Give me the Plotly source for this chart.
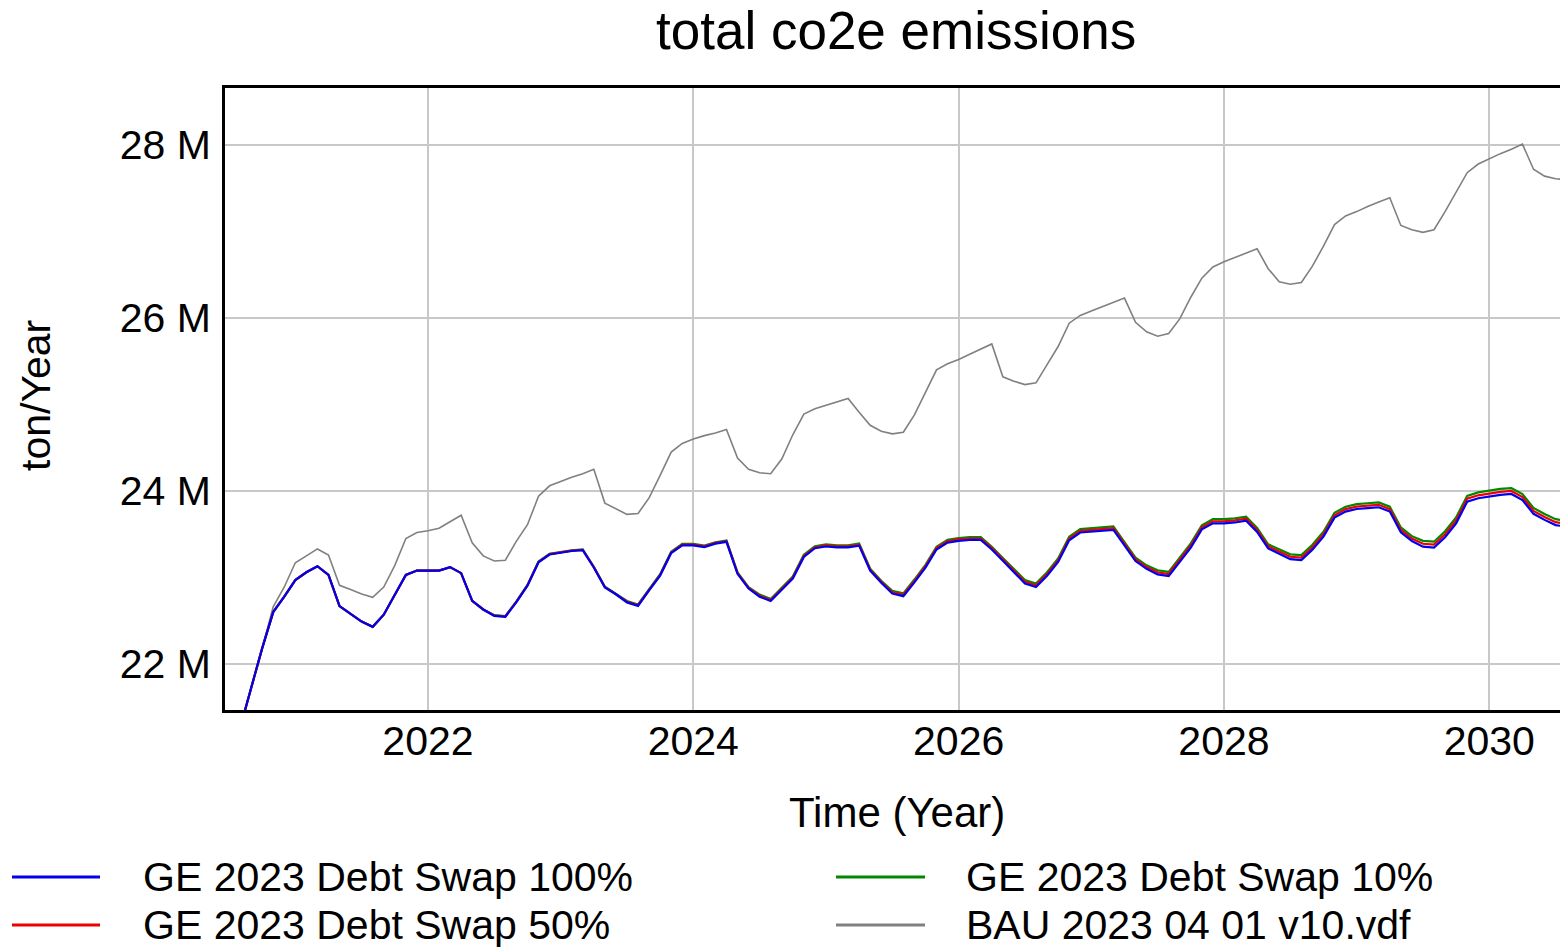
import plotly.graph_objects as go

# Monthly simulation time axis (years)
time = [2020.5 + m / 12 for m in range(122)]

# total co2e emissions, million ton/Year
bau_2023_04_01_v10 = [20.79, 21.24, 21.72, 22.18, 22.66, 22.89, 23.17, 23.25, 23.33, 23.26,
    22.91, 22.86, 22.81, 22.77, 22.89, 23.14, 23.45, 23.52, 23.54, 23.57,
    23.65, 23.72, 23.40, 23.25, 23.19, 23.20, 23.42, 23.61, 23.94, 24.06,
    24.11, 24.16, 24.20, 24.25, 23.86, 23.79, 23.73, 23.74, 23.92, 24.18,
    24.45, 24.55, 24.60, 24.64, 24.67, 24.71, 24.38, 24.25, 24.21, 24.20,
    24.37, 24.65, 24.89, 24.95, 24.99, 25.03, 25.07, 24.91, 24.76, 24.69,
    24.66, 24.68, 24.88, 25.14, 25.40, 25.47, 25.52, 25.58, 25.64, 25.70,
    25.32, 25.27, 25.23, 25.25, 25.46, 25.67, 25.94, 26.03, 26.08, 26.13,
    26.18, 26.23, 25.95, 25.84, 25.79, 25.82, 25.99, 26.24, 26.46, 26.59,
    26.65, 26.70, 26.75, 26.80, 26.57, 26.42, 26.39, 26.41, 26.60, 26.83,
    27.08, 27.18, 27.23, 27.29, 27.34, 27.39, 27.07, 27.02, 26.99, 27.02,
    27.23, 27.45, 27.68, 27.78, 27.84, 27.90, 27.95, 28.01, 27.72, 27.64,
    27.61, 27.60]

ge_debt_swap_50 = [20.79, 21.24, 21.72, 22.18, 22.60, 22.78, 22.97, 23.06, 23.13, 23.03,
    22.67, 22.58, 22.49, 22.43, 22.57, 22.80, 23.03, 23.08, 23.08, 23.08,
    23.12, 23.05, 22.73, 22.63, 22.56, 22.55, 22.72, 22.91, 23.18, 23.27,
    23.29, 23.31, 23.32, 23.12, 22.89, 22.81, 22.72, 22.68, 22.86, 23.03,
    23.29, 23.38, 23.38, 23.36, 23.40, 23.42, 23.05, 22.88, 22.79, 22.74,
    22.87, 23.00, 23.25, 23.35, 23.37, 23.36, 23.36, 23.38, 23.09, 22.95,
    22.83, 22.80, 22.96, 23.13, 23.34, 23.42, 23.44, 23.45, 23.45, 23.34,
    23.21, 23.08, 22.95, 22.91, 23.04, 23.20, 23.45, 23.54, 23.55, 23.56,
    23.57, 23.39, 23.21, 23.12, 23.06, 23.04, 23.20, 23.37, 23.58, 23.65,
    23.65, 23.66, 23.68, 23.55, 23.36, 23.30, 23.24, 23.23, 23.35, 23.50,
    23.72, 23.79, 23.82, 23.83, 23.84, 23.79, 23.55, 23.45, 23.39, 23.38,
    23.50, 23.66, 23.91, 23.95, 23.97, 23.99, 24.00, 23.93, 23.77, 23.70,
    23.64, 23.62]

ge_debt_swap_100 = [20.79, 21.24, 21.72, 22.18, 22.60, 22.78, 22.97, 23.06, 23.13, 23.03,
    22.67, 22.58, 22.49, 22.43, 22.57, 22.80, 23.03, 23.08, 23.08, 23.08,
    23.12, 23.05, 22.73, 22.63, 22.556, 22.546, 22.716, 22.906, 23.176, 23.266,
    23.286, 23.306, 23.316, 23.116, 22.886, 22.806, 22.712, 22.672, 22.852, 23.022,
    23.282, 23.372, 23.372, 23.352, 23.392, 23.412, 23.042, 22.872, 22.778, 22.728,
    22.858, 22.988, 23.238, 23.338, 23.358, 23.348, 23.348, 23.368, 23.078, 22.938,
    22.814, 22.784, 22.944, 23.114, 23.324, 23.404, 23.424, 23.434, 23.434, 23.324,
    23.194, 23.064, 22.930, 22.890, 23.020, 23.180, 23.430, 23.520, 23.530, 23.540,
    23.550, 23.370, 23.190, 23.100, 23.036, 23.016, 23.176, 23.346, 23.556, 23.626,
    23.626, 23.636, 23.656, 23.526, 23.336, 23.276, 23.212, 23.202, 23.322, 23.472,
    23.692, 23.762, 23.792, 23.802, 23.812, 23.762, 23.522, 23.422, 23.356, 23.346,
    23.466, 23.626, 23.876, 23.916, 23.936, 23.956, 23.966, 23.896, 23.736, 23.666,
    23.606, 23.586]

ge_debt_swap_10 = [20.79, 21.24, 21.72, 22.18, 22.60, 22.78, 22.97, 23.06, 23.13, 23.03,
    22.67, 22.58, 22.49, 22.43, 22.57, 22.80, 23.03, 23.08, 23.08, 23.08,
    23.12, 23.05, 22.73, 22.63, 22.564, 22.554, 22.724, 22.914, 23.184, 23.274,
    23.294, 23.314, 23.324, 23.124, 22.894, 22.814, 22.728, 22.688, 22.868, 23.038,
    23.298, 23.388, 23.388, 23.368, 23.408, 23.428, 23.058, 22.888, 22.802, 22.752,
    22.882, 23.012, 23.262, 23.362, 23.382, 23.372, 23.372, 23.392, 23.102, 22.962,
    22.846, 22.816, 22.976, 23.146, 23.356, 23.436, 23.456, 23.466, 23.466, 23.356,
    23.226, 23.096, 22.970, 22.930, 23.060, 23.220, 23.470, 23.560, 23.570, 23.580,
    23.590, 23.410, 23.230, 23.140, 23.084, 23.064, 23.224, 23.394, 23.604, 23.674,
    23.674, 23.684, 23.704, 23.574, 23.384, 23.324, 23.268, 23.258, 23.378, 23.528,
    23.748, 23.818, 23.848, 23.858, 23.868, 23.818, 23.578, 23.478, 23.424, 23.414,
    23.534, 23.694, 23.944, 23.984, 24.004, 24.024, 24.034, 23.964, 23.804, 23.734,
    23.674, 23.654]

series_names = ["GE 2023 Debt Swap 100%", "GE 2023 Debt Swap 50%",
                "GE 2023 Debt Swap 10%", "BAU 2023 04 01 v10.vdf"]
series_colors = ["#0000ee", "#ee0000", "#008800", "#808080"]
x_ticks = [2022, 2024, 2026, 2028, 2030]
y_ticks = [22, 24, 26, 28]

FONT = "Liberation Sans, Arial, sans-serif"
W, H = 1560, 950
PL, PR, PT, PB = 225, 1560, 88, 710   # plot area in page pixels


def xp(px):
    return (px - PL) / (PR - PL)


def yp(py):
    return (PB - py) / (PB - PT)


fig = go.Figure()
draw = [
    (bau_2023_04_01_v10, 3, 1.6),
    (ge_debt_swap_10, 2, 2.2),
    (ge_debt_swap_50, 1, 2.2),
    (ge_debt_swap_100, 0, 2.2),
]
for vals, idx, w in draw:
    fig.add_trace(go.Scatter(x=time, y=vals, mode="lines", name=series_names[idx],
                             line=dict(color=series_colors[idx], width=w),
                             showlegend=False))

annotations = [
    dict(text="total co2e emissions", x=xp(896), y=yp(0), xref="paper", yref="paper",
         xanchor="center", yanchor="top", showarrow=False, borderpad=0,
         font=dict(family=FONT, size=53, color="black")),
    dict(text="Time (Year)", x=xp(897), y=yp(812), xref="paper", yref="paper",
         xanchor="center", yanchor="middle", showarrow=False,
         font=dict(family=FONT, size=42, color="black")),
    dict(text="ton/Year", x=xp(36), y=yp(396), xref="paper", yref="paper",
         xanchor="center", yanchor="middle", showarrow=False, textangle=-90,
         font=dict(family=FONT, size=41, color="black")),
]
shapes = []
legend_pos = [(12, 100, 141, 877), (12, 100, 141, 925), (836, 925, 964, 877), (836, 925, 964, 925)]
for i, (x0, x1, tx, ly) in enumerate(legend_pos):
    shapes.append(dict(type="line", xref="paper", yref="paper", x0=xp(x0), x1=xp(x1),
                       y0=yp(ly), y1=yp(ly), line=dict(color=series_colors[i], width=3)))
    annotations.append(dict(text=series_names[i], x=xp(tx), y=yp(ly), xref="paper", yref="paper",
                            xanchor="left", yanchor="middle", showarrow=False,
                            font=dict(family=FONT, size=41, color="black")))

fig.update_layout(
    width=W, height=H,
    margin=dict(l=PL, r=W - PR, t=PT, b=H - PB, pad=0),
    paper_bgcolor="white", plot_bgcolor="white",
    font=dict(family=FONT, color="black"),
    annotations=annotations, shapes=shapes,
    showlegend=False,
)
fig.update_xaxes(range=[2020.470, 2030.533], tickvals=x_ticks, ticktext=[str(v) for v in x_ticks],
                 showgrid=True, gridcolor="#c8c8c8", gridwidth=2, zeroline=False,
                 showline=True, linecolor="black", linewidth=3, mirror=True,
                 ticks="", ticklabelstandoff=-7,
                 tickfont=dict(family=FONT, size=41, color="black"))
fig.update_yaxes(range=[21.468, 28.659], tickvals=y_ticks, ticktext=[f"{v} M" for v in y_ticks],
                 showgrid=True, gridcolor="#c8c8c8", gridwidth=2, zeroline=False,
                 showline=True, linecolor="black", linewidth=3, mirror=False,
                 ticks="", ticklabelstandoff=3,
                 tickfont=dict(family=FONT, size=41, color="black"))

fig.write_html("out.html", config={"displayModeBar": False},
               post_script="document.body.style.margin='0';document.body.style.overflow='hidden';")
